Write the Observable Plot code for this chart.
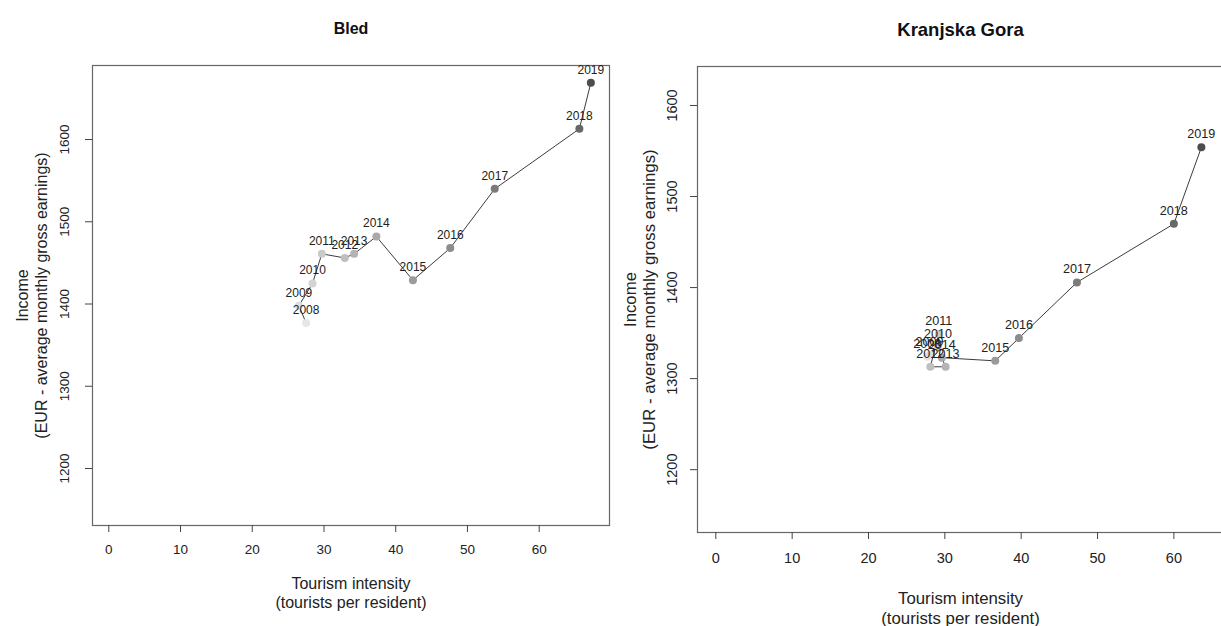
<!DOCTYPE html>
<html>
<head>
<meta charset="utf-8">
<script src="https://cdn.jsdelivr.net/npm/d3@7"></script>
<script src="https://cdn.jsdelivr.net/npm/@observablehq/plot@0.6"></script>
<style>
  html, body { margin: 0; padding: 0; background: #fff; }
  #page { position: relative; width: 1221px; height: 626px; overflow: hidden; background: #fff; }
  #bled, #kg { position: absolute; top: 0; width: 615px; height: 626px; }
  #bled { left: 0; }
  #kg { left: 615px; }
  #page svg { max-width: none !important; height: 626px !important; }
</style>
</head>
<body>
<div id="page"><div id="bled"></div><div id="kg"></div></div>
<script>
// ---- data ----
const years = [2008, 2009, 2010, 2011, 2012, 2013, 2014, 2015, 2016, 2017, 2018, 2019];

const bledIntensity = [27.5, 26.5, 28.4, 29.7, 32.9, 34.2, 37.3, 42.4, 47.6, 53.8, 65.6, 67.2];
const bledIncome    = [1377, 1398, 1425, 1461, 1456, 1461, 1482, 1429, 1468, 1540, 1613, 1669];

const kgIntensity = [27.7, 28.0, 29.1, 29.2, 28.1, 30.1, 29.6, 36.6, 39.7, 47.3, 60.0, 63.6];
const kgIncome    = [1324, 1326, 1335, 1349, 1313, 1313, 1323, 1319.5, 1344.5, 1405.7, 1470, 1554];

const xTickValues = [0, 10, 20, 30, 40, 50, 60];
const yTickValues = [1200, 1300, 1400, 1500, 1600];

const xTitle = "Tourism intensity\n(tourists per resident)";
const yTitle = "Income\n(EUR - average monthly gross earnings)";

// R-like gray.colors(start = 0.9, end = 0.3) ramp, used as a colour interpolator
function grayRamp(t) {
  const a = Math.pow(0.9, 2.2), b = Math.pow(0.3, 2.2);
  const v = Math.round(255 * Math.pow(a + t * (b - a), 1 / 2.2));
  return `rgb(${v},${v},${v})`;
}

function panel(cfg) {
  const data = years.map((year, i) => ({year, x: cfg.intensity[i], y: cfg.income[i]}));
  return Plot.plot({
    width: 615,
    height: 626,
    marginLeft: cfg.marginLeft,
    marginRight: cfg.marginRight,
    marginTop: cfg.marginTop,
    marginBottom: cfg.marginBottom,
    style: {fontFamily: "'Liberation Sans', Arial, Helvetica, sans-serif", fontSize: "12px", background: "#fff", color: "#222", overflow: "visible"},
    x: {domain: cfg.xDomain, label: null},
    y: {domain: cfg.yDomain, label: null},
    color: {type: "linear", domain: [2008, 2019], interpolate: grayRamp},
    marks: [
      Plot.frame({stroke: "#666", strokeWidth: 1.2}),
      Plot.axisX(xTickValues, {tickSize: 7, tickPadding: cfg.xTickPad, fontSize: cfg.tickFont, label: null, stroke: "#444", fill: "#222"}),
      Plot.axisY(yTickValues, {tickSize: 7, label: null, stroke: "#444", fill: "none"}),
      Plot.text(yTickValues, {y: d => d, text: d => String(d), frameAnchor: "left", dx: -cfg.yTickDx, rotate: -90, textAnchor: "middle", lineAnchor: "middle", fontSize: cfg.tickFont, fill: "#222"}),
      Plot.line(data, {x: "x", y: "y", stroke: "#3c3c3c", strokeWidth: 1}),
      Plot.dot(data, {x: "x", y: "y", r: 4, fill: d => d.year, stroke: null}),
      Plot.text(data, {x: "x", y: "y", text: d => String(d.year), dy: -13, fontSize: cfg.pointFont, fill: "#222"}),
      Plot.text([cfg.title], {text: d => d, frameAnchor: "top", dy: -cfg.titleDy, fontSize: cfg.titleFont, fontWeight: "bold", fill: "#111", textAnchor: "middle", lineAnchor: "middle"}),
      Plot.text([xTitle], {text: d => d, frameAnchor: "bottom", dy: cfg.xTitleDy, fontSize: cfg.labelFont, fill: "#222", textAnchor: "middle", lineAnchor: "middle", lineHeight: 1.18}),
      Plot.text([yTitle], {text: d => d, frameAnchor: "left", dx: -cfg.yTitleDx, rotate: -90, fontSize: cfg.labelFont, fill: "#222", textAnchor: "middle", lineAnchor: "middle", lineHeight: 1.15})
    ]
  });
}

document.getElementById("bled").append(panel({
  title: "Bled",
  intensity: bledIntensity, income: bledIncome,
  marginLeft: 92, marginRight: 6, marginTop: 65, marginBottom: 101,
  xDomain: [-2.27, 69.8], yDomain: [1130.7, 1690],
  tickFont: 13.5, labelFont: 16, titleFont: 16, pointFont: 12,
  xTickPad: 12, yTickDx: 28, titleDy: 37, xTitleDy: 67, yTitleDx: 61
}));

document.getElementById("kg").append(panel({
  title: "Kranjska Gora",
  intensity: kgIntensity, income: kgIncome,
  marginLeft: 82, marginRight: 7, marginTop: 66, marginBottom: 94,
  xDomain: [-2.4, 66.5], yDomain: [1131, 1642.8],
  tickFont: 14.5, labelFont: 16.8, titleFont: 18.5, pointFont: 12.6,
  xTickPad: 13, yTickDx: 25, titleDy: 36, xTitleDy: 75, yTitleDx: 58
}));
</script>
</body>
</html>
